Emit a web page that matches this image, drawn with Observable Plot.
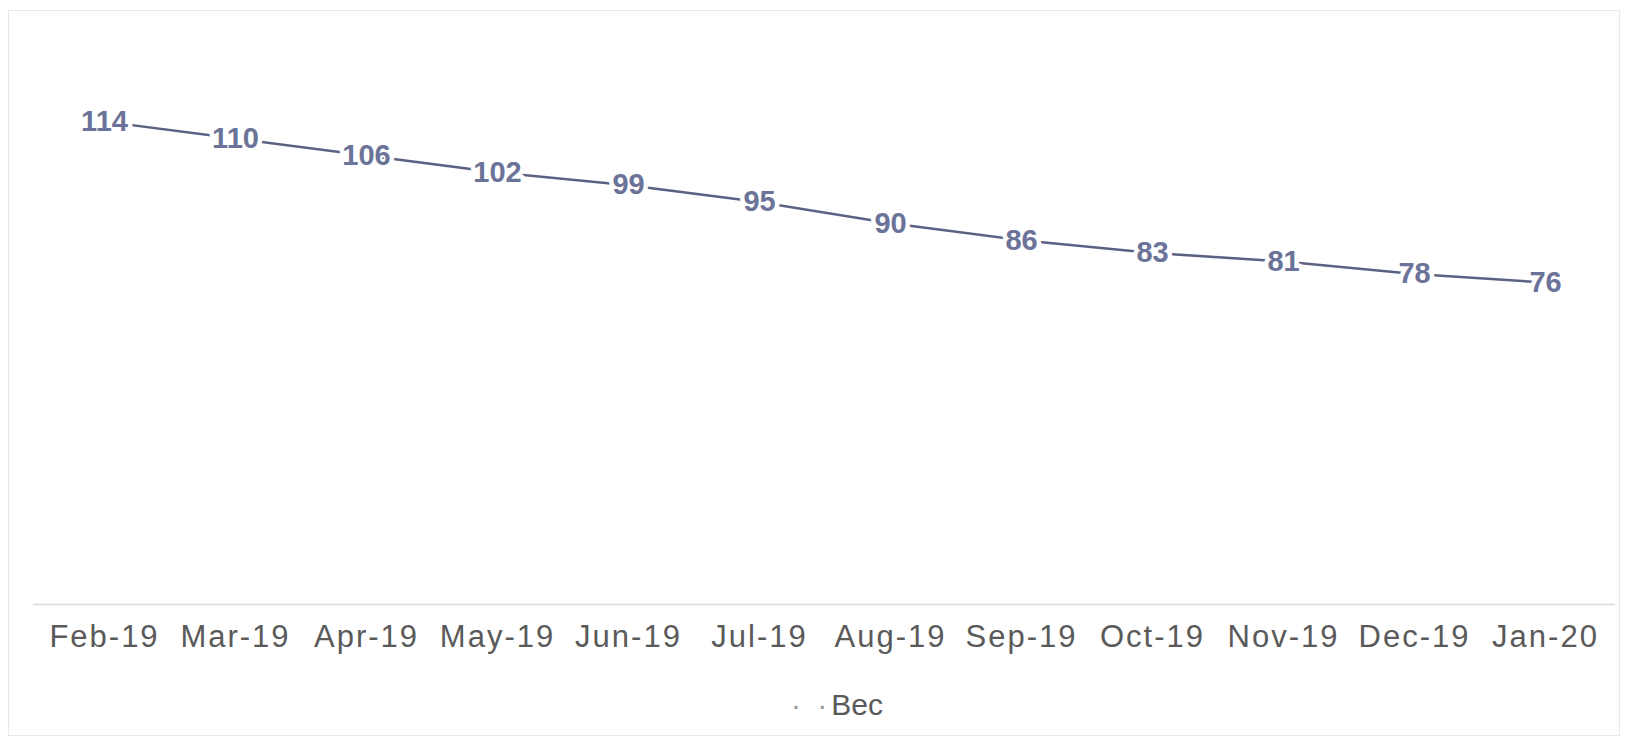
<!DOCTYPE html>
<html>
<head>
<meta charset="utf-8">
<script src="https://cdn.jsdelivr.net/npm/d3@7"></script>
<script src="https://cdn.jsdelivr.net/npm/@observablehq/plot@0.6"></script>
<style>
  html, body { margin: 0; padding: 0; background: #ffffff; }
  #frame { position: absolute; left: 8px; top: 10px; width: 1612px; height: 726px; border: 1px solid #e8e8e8; box-sizing: border-box; }
  #chart { position: absolute; left: 0; top: 0; }
  #legend { position: absolute; left: 0; width: 1674px; top: 688px; text-align: center; font-family: "Liberation Sans", Arial, sans-serif; font-size: 30px; color: #595959; }
  #legend .mk { color: #9a9a9a; letter-spacing: 4px; }
</style>
</head>
<body>
<div id="frame"></div>
<div id="chart"></div>
<div id="legend"><span class="mk">· ·</span>Bec</div>
<script>
const months = ["Feb-19", "Mar-19", "Apr-19", "May-19", "Jun-19", "Jul-19", "Aug-19", "Sep-19", "Oct-19", "Nov-19", "Dec-19", "Jan-20"];
const values = [114, 110, 106, 102, 99, 95, 90, 86, 83, 81, 78, 76];
const seriesName = "Bec";

const data = months.map((m, i) => ({month: m, value: values[i], series: seriesName}));

const chart = Plot.plot({
  width: 1628,
  height: 660,
  marginLeft: 33,
  marginRight: 13,
  marginTop: 11,
  marginBottom: 56,
  style: {fontFamily: "'Liberation Sans', Arial, sans-serif", background: "transparent"},
  x: {type: "point", domain: months, padding: 0.5, label: null},
  y: {domain: [0, 140], axis: null},
  marks: [
    Plot.ruleY([0], {stroke: "#d9d9d9", strokeWidth: 1.5}),
    Plot.lineY(data, {x: "month", y: "value", stroke: "#5a6183", strokeWidth: 2.5}),
    Plot.text(data, {x: "month", y: "value", text: d => String(d.value), fill: "#6b7398", stroke: "white", strokeWidth: 9, strokeLinejoin: "round", fontWeight: "bold", fontSize: 29, textAnchor: "middle", lineAnchor: "middle"}),
    Plot.axisX({tickSize: 0, tickPadding: 20, fontSize: 31, fill: "#5a5a5a", label: null})
  ]
});
chart.querySelectorAll("g[aria-label='x-axis tick label'] text").forEach(t => t.style.letterSpacing = "2px");
document.getElementById("chart").appendChild(chart);
</script>
</body>
</html>
